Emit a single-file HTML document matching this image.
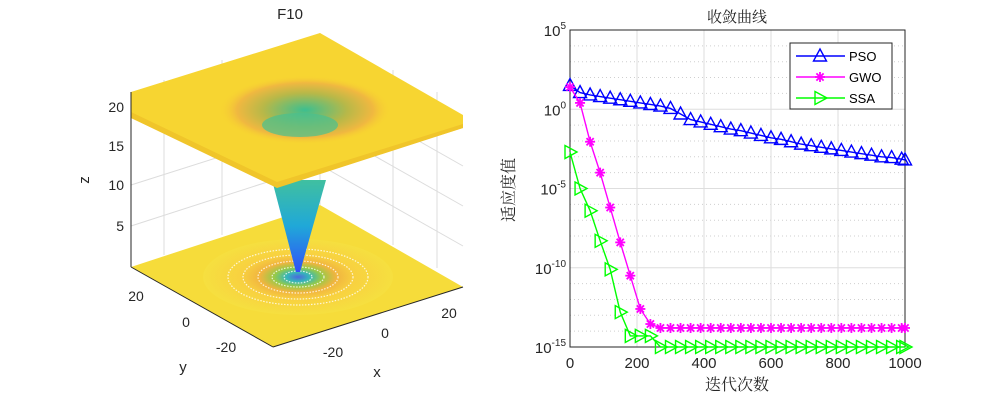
<!DOCTYPE html>
<html><head><meta charset="utf-8"><style>
body{margin:0;background:#fff}
svg text{font-family:"Liberation Sans","Noto Sans CJK SC",sans-serif}
.cjk{font-family:"Noto Serif CJK SC","Noto Sans CJK SC",serif}
</style></head><body>
<svg id="root" width="1000" height="400" viewBox="0 0 1000 400">
<rect width="1000" height="400" fill="#fff"/>
<g>
  <defs>
    <radialGradient id="floorG" cx="50%" cy="50%" r="50%">
      <stop offset="0" stop-color="#3a5cf0"/>
      <stop offset="0.12" stop-color="#20b2c8"/>
      <stop offset="0.25" stop-color="#8cc84a"/>
      <stop offset="0.4" stop-color="#f0b040"/>
      <stop offset="0.6" stop-color="#f8d040"/>
      <stop offset="1" stop-color="#f6e040"/>
    </radialGradient>
    <radialGradient id="holeG" cx="50%" cy="50%" r="50%">
      <stop offset="0" stop-color="#3cbf90"/>
      <stop offset="0.5" stop-color="#b8b848"/>
      <stop offset="0.8" stop-color="#f0b840"/>
      <stop offset="1" stop-color="#f8d030" stop-opacity="0"/>
    </radialGradient>
    <linearGradient id="funnelG" x1="0" y1="0" x2="0" y2="1">
      <stop offset="0" stop-color="#40c0a0"/>
      <stop offset="0.5" stop-color="#20a8d8"/>
      <stop offset="1" stop-color="#3050f8"/>
    </linearGradient>
  </defs>
  <g stroke="#dcdcdc" stroke-width="1" fill="none">
    <line x1="131" y1="92" x2="131" y2="265"/>
    <line x1="164" y1="80" x2="164" y2="255"/>
    <line x1="222" y1="60" x2="222" y2="235"/>
    <line x1="320" y1="33" x2="320" y2="205"/>
    <line x1="393" y1="70" x2="393" y2="245"/>
    <line x1="437" y1="92" x2="437" y2="268"/>
    <line x1="131" y1="226" x2="320" y2="165"/>
    <line x1="131" y1="185" x2="320" y2="125"/>
    <line x1="320" y1="165" x2="463" y2="246"/>
    <line x1="320" y1="125" x2="463" y2="206"/>
    <line x1="320" y1="85" x2="463" y2="166"/>
  </g>
  <polygon points="131,267 320,205 463,287 273,347" fill="#f6dc3a"/>
  <ellipse cx="298" cy="277" rx="95" ry="38" fill="url(#floorG)" opacity="0.9"/>
  <g fill="none" stroke="#fff" stroke-width="1.2" stroke-dasharray="1.5 1.5" opacity="0.8">
    <ellipse cx="298" cy="277" rx="70" ry="28"/>
    <ellipse cx="298" cy="277" rx="55" ry="22"/>
    <ellipse cx="298" cy="277" rx="40" ry="16"/>
    <ellipse cx="298" cy="277" rx="26" ry="10"/>
    <ellipse cx="298" cy="277" rx="14" ry="6"/>
  </g>
  <polygon points="272,180 326,180 300,272 296,272" fill="url(#funnelG)"/>
  <polygon points="131,92 320,33 463,115 463,128 277,186 131,118" fill="#f7d531"/>
  <polygon points="131,112 277,182 463,124 463,128 277,188 131,118" fill="#f0c52a"/>
  <ellipse cx="305" cy="110" rx="85" ry="34" fill="url(#holeG)"/>
  <ellipse cx="300" cy="125" rx="38" ry="12" fill="#48c090" opacity="0.7"/>
  <line x1="131" y1="92" x2="131" y2="267" stroke="#262626"/>
  <line x1="131" y1="267" x2="273" y2="347" stroke="#262626"/>
  <line x1="273" y1="347" x2="463" y2="287" stroke="#262626"/>
  <g font-size="14" fill="#262626" text-anchor="end">
    <text x="124" y="112">20</text>
    <text x="124" y="151">15</text>
    <text x="124" y="190">10</text>
    <text x="124" y="231">5</text>
  </g>
  <g font-size="14" fill="#262626" text-anchor="middle">
    <text x="136" y="301">20</text>
    <text x="186" y="327">0</text>
    <text x="226" y="352">-20</text>
    <text x="333" y="357">-20</text>
    <text x="385" y="338">0</text>
    <text x="449" y="318">20</text>
    <text x="183" y="372" font-size="15">y</text>
    <text x="377" y="377" font-size="15">x</text>
    <text x="0" y="0" font-size="15" transform="translate(89,180) rotate(-90)">z</text>
    <text x="290" y="19" font-size="15">F10</text>
  </g>
</g>
<g id="chart"></g>
</svg>
<script>
const iters=[0,30,60,90,120,150,180,210,240,270,300,330,360,390,420,450,480,510,540,570,600,630,660,690,720,750,780,810,840,870,900,930,960,990,1000];
const psoLog=[1.5,1.05,0.9,0.8,0.7,0.6,0.5,0.4,0.3,0.2,0.05,-0.3,-0.65,-0.8,-0.95,-1.1,-1.25,-1.35,-1.5,-1.65,-1.8,-1.9,-2.05,-2.2,-2.3,-2.4,-2.5,-2.6,-2.7,-2.8,-2.9,-3.0,-3.05,-3.15,-3.2];
const gwoLog=[1.4,0.4,-2.05,-4.0,-6.2,-8.4,-10.5,-12.6,-13.55,-13.8,-13.8,-13.8,-13.8,-13.8,-13.8,-13.8,-13.8,-13.8,-13.8,-13.8,-13.8,-13.8,-13.8,-13.8,-13.8,-13.8,-13.8,-13.8,-13.8,-13.8,-13.8,-13.8,-13.8,-13.8,-13.8];
const ssaLog=[-2.7,-5.0,-6.4,-8.3,-10.1,-12.8,-14.3,-14.3,-14.3,-15,-15,-15,-15,-15,-15,-15,-15,-15,-15,-15,-15,-15,-15,-15,-15,-15,-15,-15,-15,-15,-15,-15,-15,-15,-15];
const xTicks=[0,200,400,600,800,1000];
const yTickExp=[5,0,-5,-10,-15];
const NS='http://www.w3.org/2000/svg';
const L=570,R=905,T=30,B=347;
const sx=v=>L+(v/1000)*(R-L);
const sy=e=>T+(5-e)*(B-T)/20;
const g=document.getElementById('chart');
function mk(tag,a,parent){const e=document.createElementNS(NS,tag);for(const k in a)e.setAttribute(k,a[k]);(parent||g).appendChild(e);return e;}
mk('rect',{x:L,y:T,width:R-L,height:B-T,fill:'#fff'});
for(let e=4;e>-15;e--){if(e%5===0)continue;const l=mk('line',{x1:L,x2:R,y1:sy(e),y2:sy(e),stroke:'#cfcfcf','stroke-dasharray':'1 3'});

}
yTickExp.forEach(e=>{const l=mk('line',{x1:L,x2:R,y1:sy(e),y2:sy(e),stroke:'#dedede'});


const t=mk('text',{x:L-4,y:sy(e)+6,'font-size':15,fill:'#262626','text-anchor':'end'});


const ts=mk('tspan',{},t);ts.textContent='10';const sp=mk('tspan',{dy:-7,'font-size':10},t);sp.textContent=String(e);});
xTicks.forEach(v=>{const l=mk('line',{x1:sx(v),x2:sx(v),y1:T,y2:B,stroke:'#dedede'});


const t=mk('text',{x:sx(v),y:B+21,'font-size':15,fill:'#262626','text-anchor':'middle'});


t.textContent=String(v);});
const fr=mk('rect',{x:L,y:T,width:R-L,height:B-T,fill:'none',stroke:'#262626'});


function tri(x,y,c,p){return mk('polygon',{points:`${x},${y-7} ${x+6.5},${y+5} ${x-6.5},${y+5}`,fill:'none',stroke:c,'stroke-width':1.4},p);}
function rtri(x,y,c,p){return mk('polygon',{points:`${x-5},${y-6.5} ${x+7},${y} ${x-5},${y+6.5}`,fill:'none',stroke:c,'stroke-width':1.4},p);}
function star(x,y,c,p){const gg=mk('g',{stroke:c,'stroke-width':1.8},p);[[5,0],[0,5],[3.6,3.6],[3.6,-3.6]].forEach(([a,b])=>mk('line',{x1:x-a,y1:y-b,x2:x+a,y2:y+b},gg));return gg;}
const series=[['PSO',psoLog,'#0000ff',tri],['GWO',gwoLog,'#ff00ff',star],['SSA',ssaLog,'#00ff00',rtri]];
series.forEach(([n,d,c,m])=>{const sg=mk('g',{});


mk('polyline',{points:d.map((e,i)=>sx(iters[i])+','+sy(e)).join(' '),fill:'none',stroke:c,'stroke-width':1.4},sg);
d.forEach((e,i)=>{const mm=m(sx(iters[i]),sy(e),c,sg);

});});
const lg=mk('g',{});


mk('rect',{x:790,y:43,width:102,height:66,fill:'#fff',stroke:'#262626'},lg);
series.forEach(([n,d,c,m],i)=>{const y=56+i*21;const eg=mk('g',{},lg);


mk('line',{x1:796,x2:845,y1:y,y2:y,stroke:c,'stroke-width':1.4},eg);m(820,y,c,eg);
const t=mk('text',{x:849,y:y+5,'font-size':13,fill:'#000'},eg);t.textContent=n;});
const tt=mk('text',{x:737,y:22,'font-size':15,fill:'#262626','text-anchor':'middle',class:'cjk'});


tt.textContent='收敛曲线';
const xl=mk('text',{x:737,y:390,'font-size':16,fill:'#262626','text-anchor':'middle',class:'cjk'});


xl.textContent='迭代次数';
const yl=mk('text',{x:0,y:0,'font-size':16,fill:'#262626','text-anchor':'middle',class:'cjk',transform:'translate(514,190) rotate(-90)'});


yl.textContent='适应度值';
</script>
</body></html>
